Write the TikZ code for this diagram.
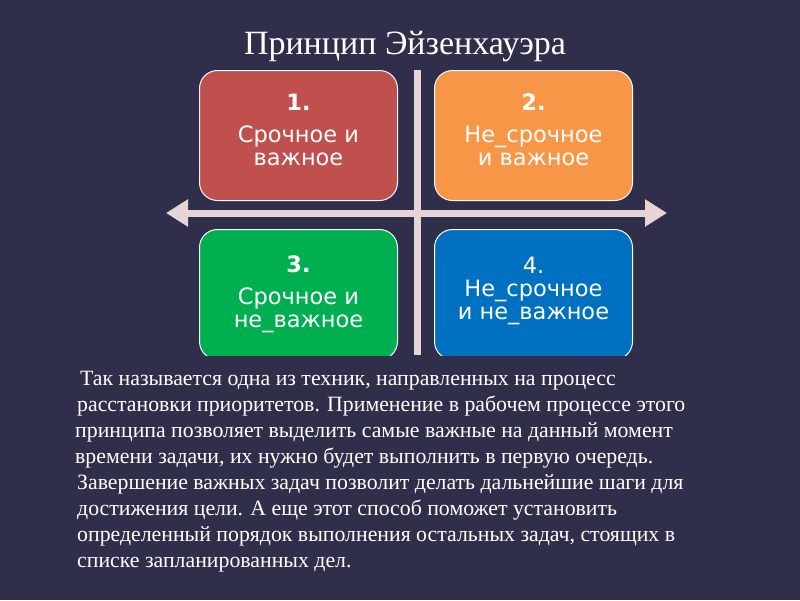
\documentclass[tikz,border=0pt]{standalone}
\usepackage{fontspec}
\setmainfont{Liberation Serif}
\newfontfamily\boxfont{DejaVu Sans}
\usetikzlibrary{arrows.meta}
\definecolor{bgnavy}{HTML}{2F2F4B}
\definecolor{qred}{HTML}{C0504D}
\definecolor{qorange}{HTML}{F79646}
\definecolor{qgreen}{HTML}{00B050}
\definecolor{qblue}{HTML}{0070C0}
\definecolor{axis}{HTML}{E8D4D4}
\tikzset{
    quad/.style = {
        rounded corners=18pt,
        minimum width=198pt,
        minimum height=130pt,
        draw=white!60,
        line width=1pt,
        text=white,
        align=center,
        font=\boxfont\fontsize{22.5}{23}\selectfont,
        },
    bodyline/.style = {
        anchor=base west,
        text=white,
        inner sep=0pt,
        font=\fontsize{21.8}{24}\selectfont,
        },
}
\begin{document}
\begin{tikzpicture}[x=1pt,y=-1pt]
    \fill[bgnavy] (0,0) rectangle (800,600);
    \useasboundingbox (0,0) rectangle (800,600);

    % title
    \node[text=white, font=\fontsize{34}{36}\selectfont] (title) at (405,47) {Принцип Эйзенхауэра};

    % axes
    \fill[axis] (414,70) rectangle (421,355);
    \coordinate (left) at (166,213);
    \coordinate (right) at (667,213);
    \draw[axis, line width=7pt, {Triangle[width=26pt,length=22pt]}-{Triangle[width=26pt,length=22pt]}] (left) -- (right);

    % quadrants
    \node[quad, fill=qred, anchor=north west] (q1) at (199,70) {\textbf{1.}\\[9pt]Срочное и\\важное\\[-11pt]\mbox{}};
    \node[quad, fill=qorange, anchor=north west] (q2) at (434,70) {\textbf{2.}\\[9pt]Не\_срочное\\и важное\\[-11pt]\mbox{}};
    \node[quad, fill=qgreen, anchor=north west] (q3) at (199,229) {\textbf{3.}\\[9pt]Срочное и\\не\_важное};
    \node[quad, fill=qblue, anchor=north west] (q4) at (434,229) {\mbox{}\\[-13pt]4.\\Не\_срочное\\и не\_важное};
    \fill[bgnavy] (190,356) rectangle (645,362);

    % text
    \node[bodyline] (l1) at (80,385) {Так называется одна из техник, направленных на процесс};
    \node[bodyline] (l2) at (77,411) {расстановки приоритетов. Применение в рабочем процессе этого};
    \node[bodyline] (l3) at (75,437) {принципа позволяет выделить самые важные на данный момент};
    \node[bodyline] (l4) at (75,463) {времени задачи, их нужно будет выполнить в первую очередь.};
    \node[bodyline] (l5) at (77,489) {Завершение важных задач позволит делать дальнейшие шаги для};
    \node[bodyline] (l6) at (77,515) {достижения цели. А еще этот способ поможет установить};
    \node[bodyline] (l7) at (77,541) {определенный порядок выполнения остальных задач, стоящих в};
    \node[bodyline] (l8) at (77,567) {списке запланированных дел.};
\end{tikzpicture}
\end{document}
